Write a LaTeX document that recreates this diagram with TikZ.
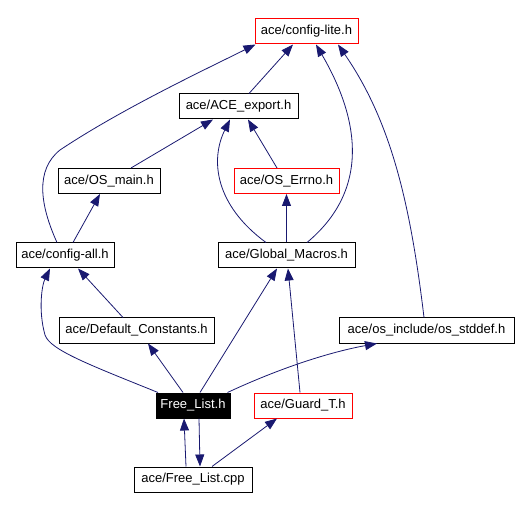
\documentclass[tikz,border=0pt]{standalone}
\usepackage{fontspec}
\setmainfont{Liberation Sans}
\usepackage{xcolor}
\usepackage{tikz}
\usetikzlibrary{arrows.meta}
\definecolor{edgeblue}{RGB}{25,25,112}

\begin{document}
\begin{tikzpicture}[x=1pt,y=-1pt,>={Triangle[length=12pt,width=9pt]},
    font=\fontsize{13}{15}\selectfont,
    hdr/.style={draw,line width=1pt,minimum height=25pt,inner xsep=4pt,inner ysep=0pt},
    hdrred/.style={hdr,draw=red},
    focus/.style={hdr,fill=black,text=white},
    dep/.style={->,draw=edgeblue,line width=0.8pt}]
  \useasboundingbox (0,0) rectangle (519,510);

  % headers, top to bottom
  \node[hdrred,minimum width=103pt] (lite) at (306.5,31.5) {ace/config-lite.h};
  \node[hdr,minimum width=119pt] (export) at (238.5,106.5) {ace/ACE\_export.h};
  \node[hdr,minimum width=102pt] (osmain) at (109,181) {ace/OS\_main.h};
  \node[hdrred,minimum width=105pt] (errno) at (286.5,181) {ace/OS\_Errno.h};
  \node[hdr,minimum width=98pt] (cfgall) at (65,255.5) {ace/config-all.h};
  \node[hdr,minimum width=137pt] (macros) at (286.5,255.5) {ace/Global\_Macros.h};
  \node[hdr,minimum width=155pt] (defconst) at (136.5,330.5) {ace/Default\_Constants.h};
  \node[hdr,minimum width=175pt] (stddef) at (426.5,330.5) {ace/os\_include/os\_stddef.h};
  \node[focus,minimum width=74pt] (flist) at (193,405.5) {Free\_List.h};
  \node[hdrred,minimum width=98pt] (guard) at (303,405.5) {ace/Guard\_T.h};
  \node[hdr,minimum width=118pt] (fcpp) at (193,479.5) {ace/Free\_List.cpp};

  % into config-lite
  \draw[dep] ([xshift=-8pt]cfgall.north) .. controls (40,205) and (35,170) .. (60,150)
    .. controls (120,110) and (200,72) .. ([xshift=1pt]lite.south west);
  \draw[dep] ([xshift=10.5pt]export.north) -- ([xshift=-13.5pt]lite.south);
  \draw[dep] ([xshift=20.5pt]macros.north) .. controls (370,190) and (360,120) .. ([xshift=9.5pt]lite.south);
  \draw[dep] ([xshift=-2.5pt]stddef.north) .. controls (410,200) and (390,120) .. ([xshift=31.5pt]lite.south);

  % into ACE_export / OS_Errno / OS_main
  \draw[dep] ([xshift=22pt]osmain.north) -- ([xshift=-25.5pt]export.south);
  \draw[dep] ([xshift=-20.5pt]macros.north) .. controls (215,205) and (210,160) .. ([xshift=-8.5pt]export.south);
  \draw[dep] ([xshift=-9.5pt]errno.north) -- ([xshift=9.5pt]export.south);
  \draw[dep] (macros.north) -- (errno.south);
  \draw[dep] ([xshift=8pt]cfgall.north) -- ([xshift=-9pt]osmain.south);

  % into config-all / Default_Constants / Global_Macros / os_stddef
  \draw[dep] ([xshift=-13.5pt]defconst.north) -- ([xshift=13pt]cfgall.south);
  \draw[dep] ([xshift=-35pt]flist.north) .. controls (90,365) and (50,350) .. (45,335)
    .. controls (38,310) and (42,285) .. ([xshift=-15pt]cfgall.south);
  \draw[dep] ([xshift=-10pt]flist.north) -- ([xshift=11.5pt]defconst.south);
  \draw[dep] ([xshift=7pt]flist.north) -- ([xshift=-9.5pt]macros.south);
  \draw[dep] ([xshift=-3pt]guard.north) -- ([xshift=1.5pt]macros.south);
  \draw[dep] ([xshift=-3pt]flist.north east) .. controls (280,368) and (330,352) .. ([xshift=-49.5pt]stddef.south);

  % Free_List.cpp
  \draw[dep] ([xshift=-7pt]fcpp.north) -- ([xshift=-9pt]flist.south);
  \draw[dep] ([xshift=6pt]flist.south) -- ([xshift=7pt]fcpp.north);
  \draw[dep] ([xshift=19pt]fcpp.north) -- ([xshift=-26pt]guard.south);
\end{tikzpicture}
\end{document}
